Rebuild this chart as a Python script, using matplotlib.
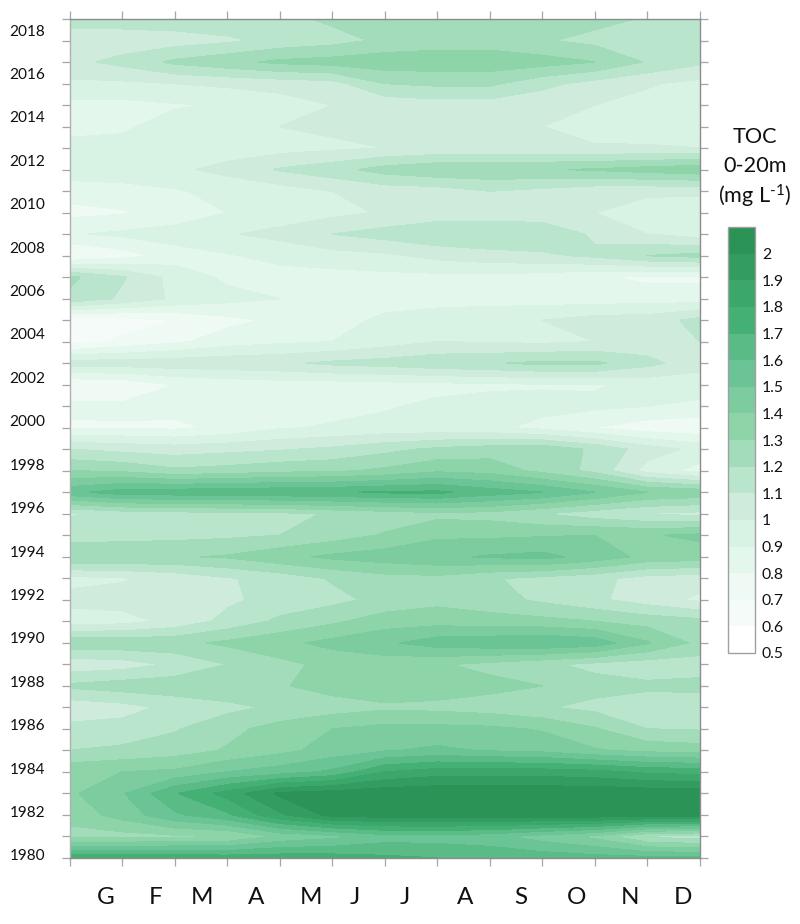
import numpy as np
import matplotlib
matplotlib.use("Agg")
import matplotlib.pyplot as plt

plt.rcParams['font.family'] = ['Lato', 'DejaVu Sans']
plt.rcParams['mathtext.fontset'] = 'custom'
plt.rcParams['mathtext.rm'] = 'Lato'
plt.rcParams['mathtext.default'] = 'regular'

# ---------------- data (rows: year index from the bottom, columns: axis ticks) ----------------
toc_rows = [
 [1.78,1.77,1.77,1.76,1.76,1.75,1.72,1.70,1.68,1.66,1.64,1.63,1.62],
 [1.26,1.26,1.28,1.29,1.42,1.47,1.55,1.55,1.53,1.45,1.37,1.18,1.14],
 [1.34,1.44,1.58,1.68,1.88,2.03,2.05,2.06,2.06,2.06,2.06,2.05,2.05],
 [1.38,1.49,1.69,1.84,2.02,2.05,2.07,2.08,2.08,2.08,2.08,2.07,2.06],
 [1.37,1.40,1.42,1.50,1.55,1.62,1.80,1.85,1.85,1.85,1.83,1.78,1.76],
 [1.20,1.22,1.25,1.31,1.37,1.44,1.49,1.52,1.49,1.47,1.41,1.37,1.35],
 [1.13,1.14,1.19,1.27,1.34,1.40,1.43,1.43,1.42,1.39,1.31,1.20,1.19],
 [1.03,1.06,1.13,1.17,1.22,1.25,1.28,1.27,1.25,1.21,1.17,1.14,1.13],
 [1.22,1.25,1.26,1.28,1.29,1.34,1.37,1.36,1.33,1.30,1.24,1.22,1.23],
 [1.03,1.05,1.12,1.20,1.27,1.33,1.34,1.31,1.27,1.22,1.17,1.14,1.15],
 [1.27,1.27,1.27,1.32,1.37,1.43,1.48,1.55,1.57,1.59,1.56,1.41,1.27],
 [0.95,0.96,1.03,1.13,1.22,1.28,1.35,1.36,1.34,1.33,1.30,1.26,1.23],
 [1.03,1.04,1.05,1.08,1.14,1.17,1.23,1.27,1.24,1.18,1.12,1.05,0.98],
 [0.97,0.99,1.03,1.09,1.14,1.21,1.26,1.27,1.21,1.17,1.13,1.06,1.04],
 [1.29,1.29,1.29,1.31,1.37,1.42,1.45,1.48,1.51,1.53,1.46,1.37,1.35],
 [1.15,1.16,1.17,1.18,1.20,1.25,1.31,1.38,1.38,1.39,1.40,1.39,1.42],
 [1.09,1.13,1.15,1.16,1.17,1.21,1.24,1.27,1.26,1.20,1.14,1.09,1.07],
 [1.57,1.65,1.66,1.67,1.68,1.69,1.71,1.72,1.65,1.60,1.50,1.40,1.37],
 [1.30,1.28,1.22,1.24,1.27,1.28,1.32,1.38,1.36,1.27,1.17,0.96,0.86],
 [1.10,1.07,1.05,1.07,1.09,1.12,1.17,1.22,1.25,1.27,1.18,1.05,0.97],
 [0.78,0.79,0.78,0.82,0.89,0.91,0.93,0.93,0.92,0.87,0.80,0.74,0.72],
 [0.83,0.82,0.83,0.84,0.85,0.87,0.89,0.92,0.94,0.93,0.92,0.90,0.88],
 [0.70,0.72,0.80,0.83,0.85,0.85,0.86,0.87,0.88,0.89,0.89,0.93,0.94],
 [1.05,1.05,1.06,1.07,1.08,1.12,1.14,1.17,1.19,1.22,1.22,1.13,1.04],
 [0.65,0.72,0.78,0.85,0.88,0.90,0.95,1.00,0.99,0.98,1.00,1.04,1.10],
 [0.63,0.65,0.70,0.77,0.82,0.86,0.92,0.95,0.97,1.00,1.04,1.05,1.13],
 [1.18,1.08,0.98,0.93,0.90,0.87,0.86,0.86,0.86,0.85,0.85,0.85,0.85],
 [1.22,1.11,0.96,0.88,0.86,0.86,0.87,0.87,0.87,0.85,0.81,0.78,0.78],
 [0.68,0.75,0.85,0.89,0.93,0.96,0.98,1.03,1.06,1.08,1.12,1.20,1.23],
 [0.89,0.92,0.95,0.99,1.03,1.10,1.14,1.18,1.19,1.18,1.08,1.00,0.95],
 [0.77,0.79,0.83,0.90,0.94,0.97,1.01,1.04,1.04,1.03,1.00,0.95,0.93],
 [0.84,0.86,0.89,0.93,0.95,1.00,1.04,1.05,1.10,1.07,1.03,1.02,1.02],
 [0.96,0.96,0.98,1.03,1.11,1.16,1.24,1.28,1.28,1.29,1.31,1.34,1.37],
 [0.92,0.93,0.94,0.95,0.96,0.98,1.00,1.02,1.02,1.02,1.01,1.01,1.00],
 [0.88,0.885,0.94,0.97,1.00,1.02,1.03,1.03,1.02,1.00,0.96,0.95,0.95],
 [0.87,0.87,0.89,0.91,0.95,1.00,1.03,1.05,1.05,1.03,1.00,0.97,0.96],
 [0.98,0.98,1.00,1.02,1.04,1.06,1.20,1.22,1.22,1.13,1.06,1.01,0.97],
 [1.07,1.13,1.22,1.27,1.32,1.34,1.36,1.36,1.36,1.34,1.30,1.19,1.12],
 [1.03,1.04,1.05,1.08,1.13,1.16,1.22,1.25,1.25,1.21,1.17,1.15,1.15],
 [1.15,1.15,1.16,1.17,1.17,1.22,1.26,1.28,1.28,1.27,1.23,1.19,1.15],
]
month_labels = ["G","F","M","A","M","J","J","A","S","O","N","D"]
year_labels = list(range(1980, 2019, 2))
level_values = [0.5,0.6,0.7,0.8,0.9,1.0,1.1,1.2,1.3,1.4,1.5,1.6,1.7,1.8,1.9,2.0,2.1]
level_colors = ["#ffffff","#f5fbf8","#eefaf3","#e4f7ec","#d8f2e3","#ceebdb","#b8e5cc","#a2dcbb",
                "#8ed4a9","#7ccc9f","#6ac495","#5abb86","#44b073","#3ca76a","#339c60","#2b9356"]
cbar_labels = ["0.5","0.6","0.7","0.8","0.9","1","1.1","1.2","1.3","1.4","1.5","1.6","1.7","1.8","1.9","2",""]

# ---------------- layout ----------------
W, H = 800, 924
fig = plt.figure(figsize=(W/100, H/100), dpi=100, facecolor="white")
L, R, T, B = 70, 699.5, 19, 858
ax = fig.add_axes([L/W, 1-B/H, (R-L)/W, (B-T)/H])

toc = np.array(toc_rows)
x = np.arange(toc.shape[1])
y = np.arange(toc.shape[0])
cs = ax.contourf(x, y, toc, levels=level_values, colors=level_colors)
cs.set_edgecolor("face")
cs.set_linewidth(0.3)
ax.set_xlim(0, 12)
ax.set_ylim(0, 39)

GREY = "#a6a6a6"
for s in ax.spines.values():
    s.set_color("#8c8c8c")
    s.set_linewidth(1.0)
ax.spines["left"].set_color("#b0b0b0")

ax.set_xticks(x, [])
ax.set_yticks(y, [])
ax.tick_params(which="major", length=5.8, width=0.9, color=GREY,
               top=True, right=True, left=True, bottom=True)

# label positions differ slightly from the tick marks in the reference
month_px = [106, 156, 202, 256, 311, 355, 405, 465, 521, 577, 630, 683]
ax.set_xticks([(p - L) / ((R - L) / 12) for p in month_px], month_labels, minor=True)
year_px = [855 - (v - 1980) * 21.71 for v in year_labels]
ax.set_yticks([(B - p) / ((B - T) / 39) for p in year_px], [str(v) for v in year_labels], minor=True)
ax.tick_params(axis="x", which="minor", length=0, labelsize=17.5, pad=21, labelcolor="#111111")
ax.tick_params(axis="y", which="minor", length=0, labelsize=11.1, pad=18, labelcolor="#111111")

# colour scale
cax = fig.add_axes([728/W, 1-653/H, 27/W, 426/H])
cb = fig.colorbar(cs, cax=cax, ticks=level_values, spacing="uniform")
cb.set_ticklabels(cbar_labels)
cb.ax.tick_params(length=0, labelsize=11.3, pad=5, labelcolor="#111111")
cb.outline.set_edgecolor("#a0a0a0")
cb.outline.set_linewidth(1.0)

for txt, py in [("TOC", 137), ("0-20m", 166), (r"(mg L$^{\text{-1}}$)", 196)]:
    fig.text(755/W, 1-py/H, txt, ha="center", va="center", fontsize=15.6, color="#111111")

fig.savefig("out.png", dpi=100, facecolor="white")
